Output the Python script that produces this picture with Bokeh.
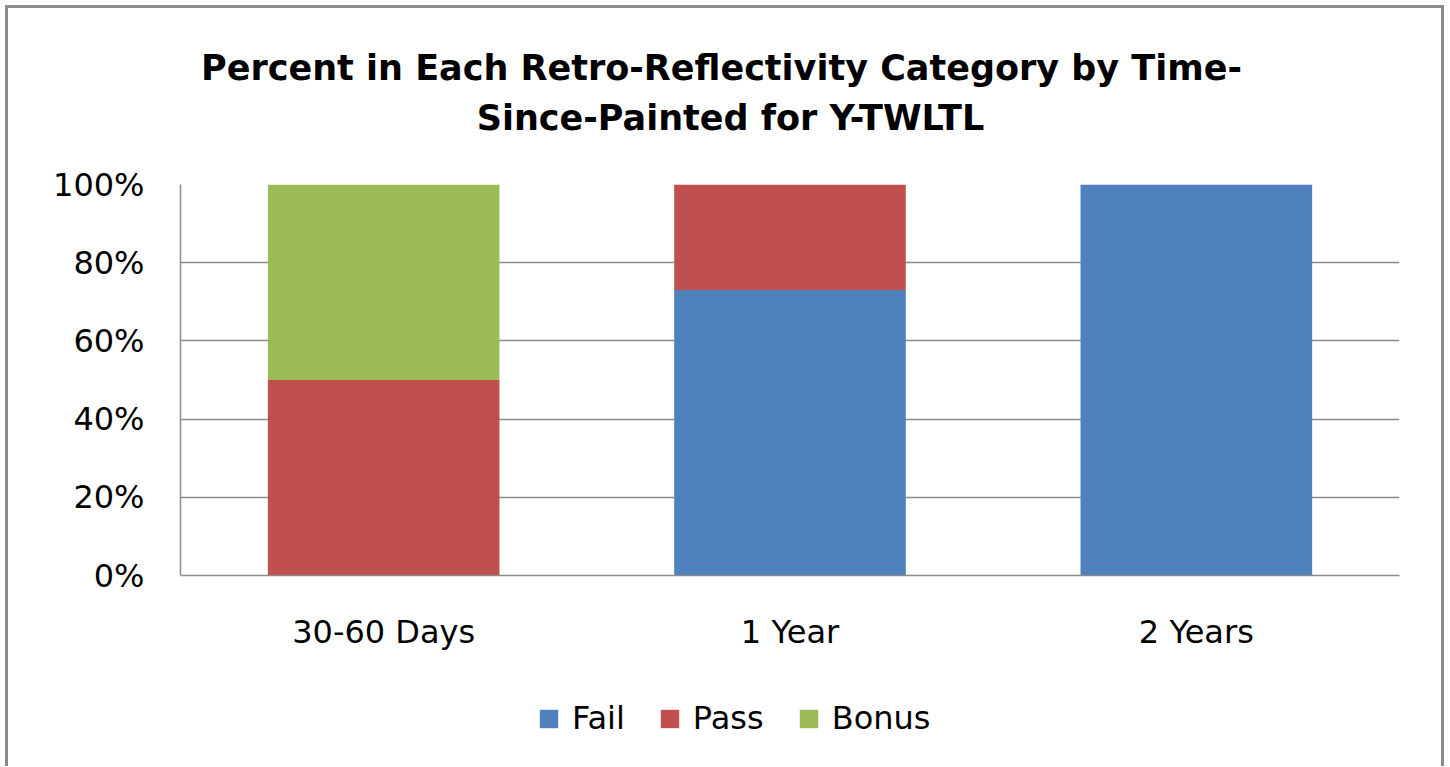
from bokeh.plotting import figure
from bokeh.layouts import column
from bokeh.models import (FactorRange, Range1d, FixedTicker, NumeralTickFormatter,
                          Legend, LegendItem, Label, ColumnDataSource)
from bokeh.embed import file_html
from bokeh.resources import INLINE

categories = ["30-60 Days", "1 Year", "2 Years"]
series = ["Fail", "Pass", "Bonus"]
fail = [0.0, 0.73, 1.0]
pass_ = [0.5, 0.27, 0.0]
bonus = [0.5, 0.0, 0.0]
colors = ["#4F81BD", "#C0504D", "#9BBB59"]
y_ticks = [0, 0.2, 0.4, 0.6, 0.8, 1.0]
title_line1 = "Percent in Each Retro-Reflectivity Category by Time-"
title_line2 = "Since-Painted for Y-TWLTL"

source = ColumnDataSource(dict(cat=categories, Fail=fail, Pass=pass_, Bonus=bonus))

FONT = "DejaVu Sans"
GRID = "#8c8c8c"
W = 1433
FRAME_W = 1219

# ---- header with the two title lines (frame is aligned with the chart's frame) ----
HEAD_H = 156
head = figure(width=W, height=HEAD_H, x_range=Range1d(0, FRAME_W), y_range=Range1d(0, HEAD_H),
              output_backend="svg", toolbar_location=None, title=None,
              x_axis_location=None, y_axis_location=None, min_border=0)
head.grid.visible = False
head.outline_line_color = None
for txt, x, y in [(title_line1, 541, 97), (title_line2, 550, 47)]:
    head.add_layout(Label(x=x, y=y, text=txt, text_font=FONT, text_font_size="35px",
                          text_font_style="bold", text_color="#000000",
                          text_align="center", text_baseline="middle"))

# ---- main chart ----
p = figure(x_range=FactorRange(*categories, range_padding=0), y_range=Range1d(0, 1),
           frame_width=FRAME_W, frame_height=391, output_backend="svg",
           toolbar_location=None, title=None,
           min_border_left=172, min_border_right=42, min_border_top=20,
           min_border_bottom=100)

p.vbar_stack(series, x="cat", width=0.57, source=source, color=colors, line_color=None)

p.outline_line_color = None
p.xgrid.grid_line_color = None
p.ygrid.grid_line_color = GRID
p.ygrid.grid_line_width = 1.5
p.yaxis.ticker = FixedTicker(ticks=y_ticks)
p.yaxis.formatter = NumeralTickFormatter(format="0%")
for ax in (p.xaxis, p.yaxis):
    ax.axis_line_color = GRID
    ax.axis_line_width = 1.5
    ax.major_tick_line_color = None
    ax.minor_tick_line_color = None
    ax.major_label_text_font = FONT
    ax.major_label_text_font_size = "32px"
    ax.major_label_text_color = "#000000"
p.yaxis.major_label_standoff = 30
p.xaxis.major_label_standoff = 31

# ---- legend strip (frame aligned with the chart's frame) ----
LEG_H = 91
leg = figure(width=W, height=LEG_H, x_range=FactorRange(*categories),
             y_range=Range1d(10, 11), output_backend="svg", toolbar_location=None,
             title=None, x_axis_location=None, y_axis_location=None, min_border=0)
leg.grid.visible = False
leg.outline_line_color = None
rs = leg.vbar_stack(series, x="cat", width=0.57, source=source, color=colors,
                    line_color=None)
legend = Legend(items=[LegendItem(label=s, renderers=[r]) for s, r in zip(series, rs)],
                orientation="horizontal", location=(357, 29),
                glyph_width=23, glyph_height=23, label_standoff=12, spacing=33,
                label_text_font=FONT, label_text_font_size="32px",
                label_text_color="#000000",
                padding=0, margin=0, border_line_color=None,
                background_fill_alpha=0)
leg.add_layout(legend)

layout = column(head, p, leg, spacing=0,
                styles={"border-top": "3px solid #8c8c8c",
                        "border-left": "3px solid #8c8c8c",
                        "border-right": "3px solid #8c8c8c",
                        "margin-left": "5px", "margin-top": "5px"})

open("out.html", "w").write(file_html(layout, INLINE))
